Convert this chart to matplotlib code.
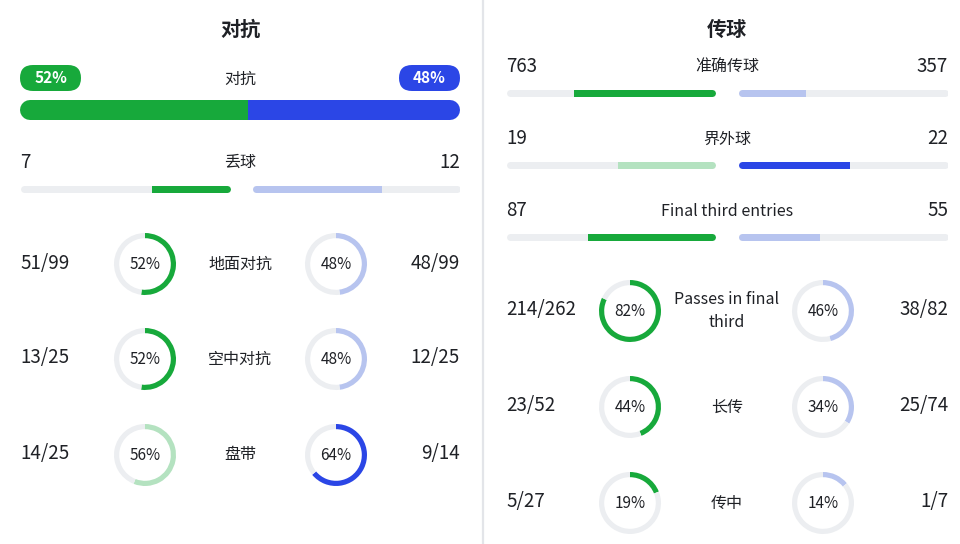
import matplotlib
matplotlib.use("Agg")
import matplotlib.pyplot as plt
from matplotlib.patches import FancyBboxPatch, Rectangle

plt.rcParams['font.family'] = ['Noto Sans CJK SC', 'DejaVu Sans']

# ---------------- data ----------------
left_title = "对抗"
right_title = "传球"

duel_label = "对抗"
duel_left_pct = 52
duel_right_pct = 48

lp_bar_labels = ["丢球"]
lp_bar_left = [7]
lp_bar_right = [12]
lp_bar_hl = ["left"]

rp_bar_labels = ["准确传球", "界外球", "Final third entries"]
rp_bar_left = [763, 19, 87]
rp_bar_right = [357, 22, 55]
rp_bar_hl = ["left", "right", "left"]

lp_ring_labels = ["地面对抗", "空中对抗", "盘带"]
lp_ring_left_made = [51, 13, 14]
lp_ring_left_att = [99, 25, 25]
lp_ring_right_made = [48, 12, 9]
lp_ring_right_att = [99, 25, 14]

rp_ring_labels = ["Passes in final\nthird", "长传", "传中"]
rp_ring_left_made = [214, 23, 5]
rp_ring_left_att = [262, 52, 27]
rp_ring_right_made = [38, 25, 1]
rp_ring_right_att = [82, 74, 7]

# ---------------- style ----------------
W, H = 960, 544
GREEN = '#17a93b'
BLUE = '#2b46e6'
LGREEN = '#b4e2c0'
LBLUE = '#b7c4ef'
TRACK = '#eceef1'
TXT = '#1f2126'
NUM = 13.5
LAB = 11.5

fig = plt.figure(figsize=(W / 100, H / 100), dpi=100)
fig.patch.set_facecolor('white')


def px_axes(x0, y0, w, h):
    return fig.add_axes([x0 / W, 1 - (y0 + h) / H, w / W, h / H])


bg = px_axes(0, 0, W, H)
bg.set_xlim(0, W)
bg.set_ylim(H, 0)
bg.axis('off')
bg.plot([483, 483], [0, H], color='#e3e5e9', lw=1.6)


def txt(x, y, s, size=NUM, ha='center', weight='normal', color=TXT, **kw):
    bg.text(x, y, s, fontsize=size, ha=ha, va='center', weight=weight,
            color=color, **kw)


def half_bar(x0, x1, yc, value, total, color, side, thick=7):
    r = thick / 2
    span = x1 - x0 - 2 * r
    m = total * r / span
    ax = px_axes(x0, yc - thick, x1 - x0, 2 * thick)
    if side == 'left':
        ax.set_xlim(total + m, -m)
    else:
        ax.set_xlim(-m, total + m)
    ax.set_ylim(-1, 1)
    ax.axis('off')
    lw = thick * 0.72
    ax.plot([0, total], [0, 0], color=TRACK, lw=lw, solid_capstyle='round')
    ln, = ax.plot([0, total], [0, 0], color=color, lw=lw, solid_capstyle='round')
    ln.set_clip_path(Rectangle((-2 * total, -2), value + 2 * total, 4,
                               transform=ax.transData))


def ring(cx, cy, pct, color, R=31, width=5.2):
    ax = px_axes(cx - R, cy - R, 2 * R, 2 * R)
    ax.pie([pct, 100 - pct], colors=[color, TRACK], startangle=90,
           counterclock=False, radius=1,
           wedgeprops=dict(width=width / R, linewidth=0))
    ax.set_xlim(-1, 1)
    ax.set_ylim(-1, 1)
    ax.set_aspect('equal')
    ax.axis('off')
    ax.text(0, -0.02, f"{pct}%", ha='center', va='center', fontsize=11,
            color=TXT)


# ---------------- left panel ----------------
txt(240, 29, left_title, size=14.5, weight='bold')

# pills
for x0, val, col in [(20, duel_left_pct, GREEN), (399, duel_right_pct, BLUE)]:
    bg.add_patch(FancyBboxPatch((x0, 65), 61, 26,
                                boxstyle="round,pad=0,rounding_size=13",
                                fc=col, ec='none'))
    txt(x0 + 30.5, 78, f"{val}%", size=11, weight='bold', color='white')
txt(240, 79, duel_label, size=LAB)

# big duel bar
thick = 20
r = thick / 2
tot = duel_left_pct + duel_right_pct
m = tot * r / (440 - 2 * r)
axb = px_axes(20, 110 - thick, 440, 2 * thick)
axb.set_xlim(-m, tot + m)
axb.set_ylim(-1, 1)
axb.axis('off')
for lo, hi, col in [(-tot, duel_left_pct, GREEN), (duel_left_pct, 2 * tot, BLUE)]:
    ln, = axb.plot([0, tot], [0, 0], color=col, lw=thick * 0.72,
                   solid_capstyle='round')
    ln.set_clip_path(Rectangle((lo, -2), hi - lo, 4, transform=axb.transData))

# small bars left panel
lp_bar_y = [162]
for i, lab in enumerate(lp_bar_labels):
    ty = lp_bar_y[i]
    lv, rv = lp_bar_left[i], lp_bar_right[i]
    txt(20, ty, f"{lv}", ha='left')
    txt(460, ty, f"{rv}", ha='right')
    txt(240, ty, lab, size=LAB)
    tot = lv + rv
    hl = lp_bar_hl[i]
    half_bar(20, 230, ty + 27, lv, tot, GREEN if hl == 'left' else LGREEN, 'left')
    half_bar(252, 460, ty + 27, rv, tot, BLUE if hl == 'right' else LBLUE, 'right')

# rings left panel
lp_ring_y = [264, 359, 455]
for i, lab in enumerate(lp_ring_labels):
    cy = lp_ring_y[i]
    lm, la = lp_ring_left_made[i], lp_ring_left_att[i]
    rm, ra = lp_ring_right_made[i], lp_ring_right_att[i]
    lpct = round(100 * lm / la)
    rpct = round(100 * rm / ra)
    txt(20, cy - 1, f"{lm}/{la}", ha='left')
    txt(460, cy - 1, f"{rm}/{ra}", ha='right')
    txt(240, cy, lab, size=LAB)
    ring(145, cy, lpct, GREEN if lpct >= rpct else LGREEN)
    ring(336, cy, rpct, BLUE if rpct > lpct else LBLUE)

# ---------------- right panel ----------------
txt(727, 29, right_title, size=14.5, weight='bold')

rp_bar_y = [67, 139, 211]
for i, lab in enumerate(rp_bar_labels):
    ty = rp_bar_y[i]
    lv, rv = rp_bar_left[i], rp_bar_right[i]
    txt(506, ty, f"{lv}", ha='left')
    txt(948, ty, f"{rv}", ha='right')
    txt(727, ty, lab, size=LAB)
    tot = lv + rv
    hl = rp_bar_hl[i]
    half_bar(506, 715, ty + 26, lv, tot, GREEN if hl == 'left' else LGREEN, 'left')
    half_bar(738, 948, ty + 26, rv, tot, BLUE if hl == 'right' else LBLUE, 'right')

rp_ring_y = [311, 407, 503]
for i, lab in enumerate(rp_ring_labels):
    cy = rp_ring_y[i]
    lm, la = rp_ring_left_made[i], rp_ring_left_att[i]
    rm, ra = rp_ring_right_made[i], rp_ring_right_att[i]
    lpct = round(100 * lm / la)
    rpct = round(100 * rm / ra)
    txt(506, cy - 1, f"{lm}/{la}", ha='left')
    txt(948, cy - 1, f"{rm}/{ra}", ha='right')
    txt(727, cy, lab, size=LAB, linespacing=1.45)
    ring(630, cy, lpct, GREEN if lpct >= rpct else LGREEN)
    ring(823, cy, rpct, BLUE if rpct > lpct else LBLUE)

fig.savefig("out.png", dpi=100, facecolor='white')
